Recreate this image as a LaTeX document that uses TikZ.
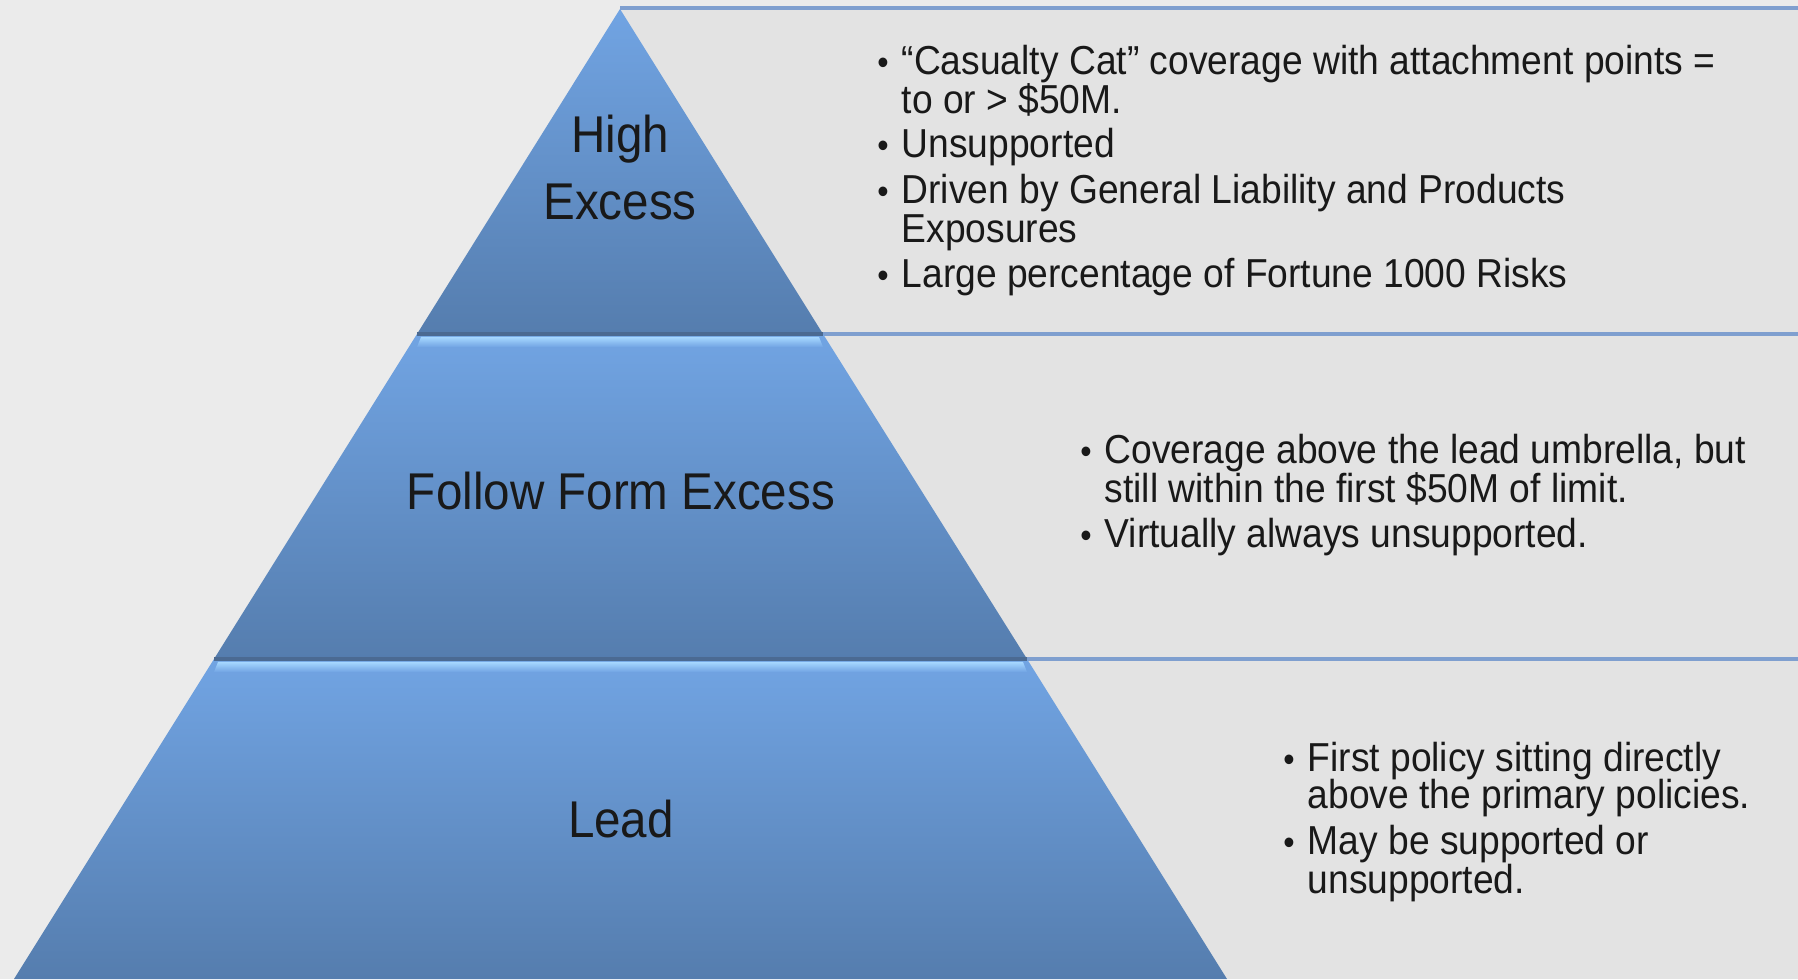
\documentclass[tikz,border=0pt]{standalone}
\usepackage{fontspec}
\setmainfont{Liberation Sans}[FakeStretch=0.92]
\definecolor{backg}{HTML}{EBEBEB}
\definecolor{panel}{HTML}{E3E3E3}
\definecolor{rule}{HTML}{7F9FCF}
\definecolor{bandtop}{HTML}{71A4E3}
\definecolor{bandbot}{HTML}{557DAE}
\definecolor{shine}{HTML}{A6D7FF}
\definecolor{seam}{HTML}{4B6A92}

\begin{document}
\begin{tikzpicture}[x=0.01cm, y=0.01cm,
  band/.style={top color=bandtop, bottom color=bandbot},
  lbl/.style={anchor=base, inner sep=0, font=\fontsize{14.7}{19}\selectfont, text=black!90},
  txt/.style={anchor=base west, inner sep=0, font=\fontsize{11.5}{13}\selectfont, text=black!90},
  dot/.style={anchor=base, inner sep=0, font=\fontsize{10}{11}\selectfont, text=black!90}]

    \useasboundingbox (0,0) rectangle (1798,979);
    \fill[backg] (0,0) rectangle (1798,979);

    % panels behind the pyramid
    \foreach \t/\b in {971/645, 645/320, 320/0} {
      \fill[panel] (620,\b) rectangle (1798,\t);
      \draw[rule, line width=0.9pt] (620,\t) -- (1798,\t);
    }

    \coordinate (p0) at (620,970);
    \coordinate (l1) at (417,645);
    \coordinate (r1) at (823,645);
    \coordinate (l2) at (214,320);
    \coordinate (r2) at (1027,320);
    \coordinate (l3) at (14,0);
    \coordinate (r3) at (1227,0);

    \shade[band] (p0) -- (l1) -- (r1) -- cycle;
    \shade[band] (l1) -- (l2) -- (r2) -- (r1) -- cycle;
    \shade[band] (l2) -- (l3) -- (r3) -- (r2) -- cycle;

    % bevels between the bands
    \shade[top color=shine, bottom color=bandtop] (421,642) -- (819,642) -- (823,632) -- (417,632) -- cycle;
    \shade[top color=shine, bottom color=bandtop] (218,317) -- (1023,317) -- (1027,307) -- (214,307) -- cycle;
    \draw[seam, line width=0.9pt] (l1) -- (r1);
    \draw[seam, line width=0.9pt] (l2) -- (r2);

    \node[lbl] (high) at (620,826) {High};
    \node[lbl] (excess) at (620,759) {Excess};
    \node[lbl] (follow) at (621,469) {Follow Form Excess};
    \node[lbl] (lead) at (621,142) {Lead};

    % top panel
    \node[dot] (d1) at (883,904) {\textbullet};
    \node[txt] (t1) at (901,904) {“Casualty Cat” coverage with attachment points =};
    \node[txt] (t1b) at (901,865) {to or > \$50M.};
    \node[dot] (d2) at (883,821) {\textbullet};
    \node[txt] (t2) at (901,821) {Unsupported};
    \node[dot] (d3) at (883,775) {\textbullet};
    \node[txt] (t3) at (901,775) {Driven by General Liability and Products};
    \node[txt] (t3b) at (901,736) {Exposures};
    \node[dot] (d4) at (883,691) {\textbullet};
    \node[txt] (t4) at (901,691) {Large percentage of Fortune 1000 Risks};

    % middle panel
    \node[dot] (d5) at (1086,515) {\textbullet};
    \node[txt] (t5) at (1104,515) {Coverage above the lead umbrella, but};
    \node[txt] (t5b) at (1104,476) {still within the first \$50M of limit.};
    \node[dot] (d6) at (1086,431) {\textbullet};
    \node[txt] (t6) at (1104,431) {Virtually always unsupported.};

    % bottom panel
    \node[dot] (d7) at (1289,208) {\textbullet};
    \node[txt] (t7) at (1307,208) {First policy sitting directly};
    \node[txt] (t7b) at (1307,171) {above the primary policies.};
    \node[dot] (d8) at (1289,125) {\textbullet};
    \node[txt] (t8) at (1307,125) {May be supported or};
    \node[txt] (t8b) at (1307,86) {unsupported.};
  \end{tikzpicture}
\end{document}
